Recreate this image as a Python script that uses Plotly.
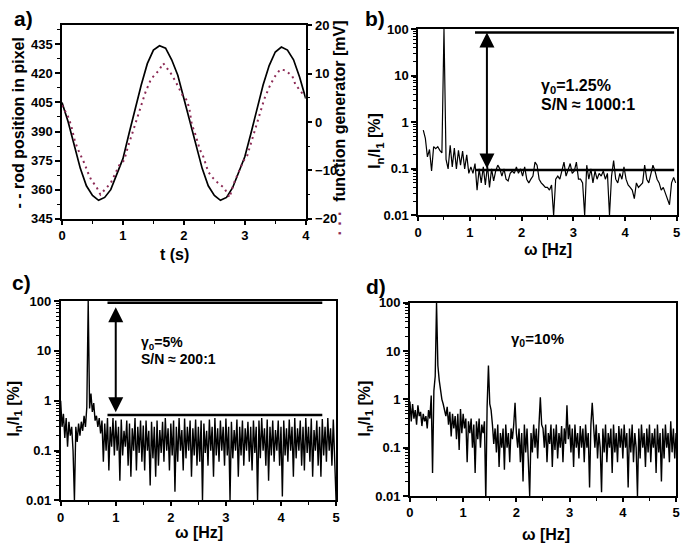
import numpy as np
import plotly.graph_objects as go

FONT = 'Liberation Sans, Arial, sans-serif'
GEN_COLOR = '#8c2a55'

# a) rod position (left axis, pixel) and function generator (right axis, mV)
t_rod = [0.0, 0.1, 0.2, 0.3, 0.4, 0.5, 0.6, 0.7, 0.8, 0.9, 1.0, 1.1, 1.2, 1.3, 1.4, 1.5, 1.6, 1.7, 1.8, 1.9, 2.0,
         2.1, 2.2, 2.3, 2.4, 2.5, 2.6, 2.7, 2.8, 2.9, 3.0, 3.1, 3.2, 3.3, 3.4, 3.5, 3.6, 3.7, 3.8, 3.9, 4.0]
rod_px = [405, 395, 383, 371, 362, 357, 354.5, 356, 360, 368, 376, 389, 402, 414, 425, 432, 434.2, 433, 427, 419, 407,
          395, 383, 371, 362, 357, 354.5, 356, 361, 369, 377, 389, 402, 414, 424, 431, 433.6, 432, 427, 418, 407]
t_gen = [0.0, 0.1, 0.15, 0.21, 0.26, 0.31, 0.37, 0.42, 0.48, 0.56, 0.63, 0.70, 0.80, 0.94, 1.02, 1.08, 1.13, 1.21,
         1.29, 1.37, 1.46, 1.53, 1.59, 1.66, 1.78, 1.86, 1.98, 2.05, 2.09, 2.13, 2.18, 2.26, 2.32, 2.40, 2.48, 2.56,
         2.66, 2.75, 2.81, 2.89, 2.97, 3.04, 3.08, 3.16, 3.24, 3.32, 3.40, 3.48, 3.58, 3.67, 3.78, 3.83, 3.97]
gen_mv = [3.5, 1.1, -0.7, -3.9, -5.6, -6.9, -8.6, -10.3, -12, -13.3, -15, -14, -12.6, -8.9, -7.9, -5.2, -3.2, -0.2,
          3.1, 6.2, 8.9, 10, 10.7, 12.2, 10.2, 8.5, 5.5, 4.5, 2.8, -0.5, -2.2, -5.6, -7.2, -10.3, -11.6, -12.6,
          -13.6, -15.6, -13, -10.6, -8.2, -6.9, -5.2, -1.9, 1.5, 4.8, 7.2, 9.2, 10.9, 10.7, 9.5, 7.8, 5.5]

# b) spectrum, gamma0 = 1.25 %
freq_b = np.round(np.arange(0.1, 4.99, 0.04), 3)
amp_b = [0.68, 0.45, 0.18, 0.26, 0.09, 0.30, 0.27, 0.30, 0.25, 0.22,
         100, 0.16, 0.10, 0.32, 0.11, 0.28, 0.10, 0.25, 0.12, 0.24,
         0.10, 0.20, 0.08, 0.11, 0.08, 0.13, 0.035, 0.10, 0.05, 0.11,
         0.045, 0.12, 0.04, 0.10, 0.055, 0.09, 0.12, 0.10, 0.07, 0.10,
         0.06, 0.055, 0.08, 0.09, 0.08, 0.11, 0.08, 0.10, 0.07, 0.11,
         0.06, 0.05, 0.06, 0.07, 0.14, 0.12, 0.06, 0.05, 0.045, 0.04,
         0.04, 0.035, 0.045, 0.01, 0.06, 0.07, 0.06, 0.09, 0.14, 0.07,
         0.10, 0.13, 0.08, 0.09, 0.14, 0.06, 0.06, 0.05, 0.01, 0.12,
         0.06, 0.10, 0.05, 0.09, 0.06, 0.08, 0.07, 0.09, 0.06, 0.08,
         0.01, 0.07, 0.15, 0.06, 0.05, 0.08, 0.06, 0.11, 0.06, 0.045,
         0.04, 0.035, 0.023, 0.05, 0.04, 0.045, 0.05, 0.12, 0.06, 0.05,
         0.08, 0.12, 0.09, 0.06, 0.05, 0.035, 0.04, 0.03, 0.025, 0.017,
         0.05, 0.065, 0.05]

# c) and d) spectra, gamma0 = 5 % and 10 %
freq_cd = np.round(np.arange(0, 5.001, 0.025), 3)
amp_c = [1.0, 0.3, 0.55, 0.18, 0.45, 0.12, 0.38, 0.2, 0.3, 0.1,
         0.01, 0.3, 0.15, 0.35, 0.2, 0.38, 0.25, 0.5, 0.3, 0.75,
         100, 0.7, 1.4, 0.6, 0.9, 0.4, 0.5, 0.3, 0.45, 0.22,
         0.4, 0.06, 0.35, 0.1, 0.45, 0.04, 0.3, 0.12, 0.45, 0.08,
         0.4, 0.1, 0.3, 0.025, 0.42, 0.08, 0.25, 0.12, 0.4, 0.05,
         0.35, 0.03, 0.28, 0.1, 0.45, 0.04, 0.3, 0.09, 0.4, 0.06,
         0.32, 0.04, 0.4, 0.1, 0.25, 0.02, 0.38, 0.07, 0.3, 0.03,
         0.4, 0.05, 0.26, 0.09, 0.38, 0.06, 0.45, 0.1, 0.28, 0.04,
         0.35, 0.08, 0.4, 0.015, 0.3, 0.06, 0.45, 0.1, 0.26, 0.04,
         0.44, 0.07, 0.3, 0.1, 0.4, 0.03, 0.28, 0.08, 0.42, 0.05,
         0.3, 0.06, 0.4, 0.01, 0.35, 0.09, 0.25, 0.05, 0.42, 0.1,
         0.3, 0.03, 0.45, 0.08, 0.28, 0.06, 0.4, 0.1, 0.3, 0.05,
         0.44, 0.08, 0.3, 0.01, 0.38, 0.07, 0.26, 0.1, 0.42, 0.03,
         0.3, 0.08, 0.4, 0.05, 0.28, 0.1, 0.38, 0.06, 0.3, 0.04,
         0.4, 0.09, 0.3, 0.01, 0.4, 0.07, 0.45, 0.1, 0.28, 0.05,
         0.42, 0.025, 0.3, 0.08, 0.4, 0.06, 0.26, 0.1, 0.4, 0.05,
         0.3, 0.012, 0.4, 0.08, 0.28, 0.06, 0.42, 0.1, 0.3, 0.03,
         0.45, 0.07, 0.28, 0.1, 0.4, 0.05, 0.3, 0.04, 0.45, 0.09,
         0.3, 0.06, 0.44, 0.03, 0.26, 0.1, 0.4, 0.05, 0.3, 0.03,
         0.43, 0.08, 0.3, 0.06, 0.45, 0.1, 0.28, 0.05, 0.42, 0.04,
         0.01]
amp_d = [0.9, 0.35, 0.8, 0.4, 0.6, 0.3, 0.75, 0.45, 0.55, 0.28,
         0.5, 0.35, 0.45, 0.25, 0.6, 0.4, 1.2, 0.03, 1.5, 3.0,
         100, 5, 2.5, 1.5, 1.0, 0.8, 0.6, 0.45, 0.7, 0.3,
         0.55, 0.17, 0.5, 0.25, 0.45, 0.15, 0.5, 0.09, 0.63, 0.2,
         0.5, 0.25, 0.4, 0.05, 0.35, 0.2, 0.4, 0.1, 0.3, 0.03,
         0.35, 0.15, 0.4, 0.1, 0.3, 0.2, 0.35, 0.008, 0.7, 5,
         0.8, 0.6, 0.3, 0.12, 0.25, 0.08, 0.3, 0.04, 0.2, 0.1,
         0.25, 0.035, 0.3, 0.1, 0.2, 0.05, 0.25, 0.15, 0.3, 0.85,
         0.2, 0.1, 0.25, 0.05, 0.2, 0.02, 0.3, 0.08, 0.25, 0.04,
         0.01, 0.2, 0.08, 0.3, 0.1, 0.25, 0.06, 0.3, 1.1, 0.3,
         0.25, 0.1, 0.3, 0.05, 0.2, 0.12, 0.3, 0.04, 0.25, 0.09,
         0.3, 0.06, 0.2, 0.1, 0.28, 0.05, 0.25, 0.12, 0.75, 0.15,
         0.3, 0.08, 0.25, 0.04, 0.3, 0.1, 0.2, 0.06, 0.28, 0.1,
         0.25, 0.05, 0.3, 0.1, 0.2, 0.015, 0.3, 0.85, 0.25, 0.1,
         0.3, 0.06, 0.2, 0.1, 0.012, 0.25, 0.08, 0.3, 0.05, 0.2,
         0.1, 0.25, 0.03, 0.3, 0.08, 0.2, 0.05, 0.28, 0.1, 0.25,
         0.06, 0.3, 0.1, 0.2, 0.015, 0.25, 0.08, 0.3, 0.05, 0.2,
         0.1, 0.01, 0.25, 0.06, 0.3, 0.1, 0.2, 0.04, 0.25, 0.08,
         0.3, 0.05, 0.2, 0.1, 0.25, 0.03, 0.3, 0.08, 0.2, 0.02,
         0.25, 0.06, 0.3, 0.1, 0.2, 0.05, 0.35, 0.08, 0.25, 0.06,
         0.2]

# signal / noise guide lines and the double arrow between them
b_levels = [85, 0.095]
b_span = [1.1, 4.95]
b_arrow_x = 1.33
c_levels = [92, 0.52]
c_span = [0.85, 4.75]
c_arrow_x = 1.0


def P(px, py):
    # pixel position in the 685x550 picture -> paper coords
    return px / 685, 1 - py / 550


fig = go.Figure()

fig.add_trace(go.Scatter(x=t_rod, y=rod_px, xaxis='x', yaxis='y', mode='lines',
                         line=dict(color='black', width=1.7)))
fig.add_trace(go.Scatter(x=t_gen, y=gen_mv, xaxis='x', yaxis='y5', mode='lines',
                         line=dict(color=GEN_COLOR, width=2, dash='2px,4px')))

fig.add_trace(go.Scatter(x=freq_b, y=amp_b, xaxis='x2', yaxis='y2', mode='lines',
                         line=dict(color='black', width=1.2)))
fig.add_trace(go.Scatter(x=freq_cd, y=amp_c, xaxis='x3', yaxis='y3', mode='lines',
                         line=dict(color='black', width=1.4)))
fig.add_trace(go.Scatter(x=freq_cd, y=amp_d, xaxis='x4', yaxis='y4', mode='lines',
                         line=dict(color='black', width=1.4)))

for lev in b_levels:
    fig.add_trace(go.Scatter(x=b_span, y=[lev, lev], xaxis='x2', yaxis='y2', mode='lines',
                             line=dict(color='black', width=2.5)))
for lev in c_levels:
    fig.add_trace(go.Scatter(x=c_span, y=[lev, lev], xaxis='x3', yaxis='y3', mode='lines',
                             line=dict(color='black', width=2.5)))

tickfont = dict(family=FONT, size=13, color='black', weight='bold')
base = dict(showline=True, linecolor='black', linewidth=1.5, mirror=True, ticks='outside',
            ticklen=5, tickwidth=1.5, tickcolor='black', showgrid=False, zeroline=False,
            tickfont=tickfont, ticklabeloverflow='allow')
minor_lin = dict(ticks='outside', ticklen=3, tickwidth=1.2, tickcolor='black', showgrid=False)
log_axis = dict(base, type='log', range=[-2, 2], tickvals=[0.01, 0.1, 1, 10, 100],
                ticktext=['0.01', '0.1', '1', '10', '100'],
                minor=dict(ticks='outside', ticklen=3, tickwidth=1, tickcolor='black',
                           tickvals=[a * 10.0 ** e for e in range(-2, 2) for a in range(2, 10)]))
freq_axis = dict(base, range=[0, 5], dtick=1, tick0=0, ticklen=4, minor=dict(minor_lin, dtick=0.5))

fig.update_layout(
    width=685, height=550, margin=dict(l=0, r=0, t=0, b=0),
    paper_bgcolor='white', plot_bgcolor='white', showlegend=False,
    font=dict(family=FONT, color='black'),
    xaxis=dict(base, domain=[0.0857, 0.4457], anchor='y', range=[0, 4], dtick=1, tick0=0, ticklen=4,
               minor=dict(minor_lin, dtick=0.5)),
    yaxis=dict(base, domain=[0.6042, 0.9655], anchor='x', range=[345, 444.7], tick0=345, dtick=15,
               minor=dict(minor_lin, dtick=7.5), mirror=False),
    yaxis5=dict(base, overlaying='y', side='right', anchor='x', range=[-20, 20], dtick=10,
                minor=dict(minor_lin, dtick=5), mirror=False),
    xaxis2=dict(freq_axis, domain=[0.6117, 0.9937], anchor='y2'),
    yaxis2=dict(log_axis, domain=[0.6104, 0.9587], anchor='x2'),
    xaxis3=dict(freq_axis, domain=[0.0837, 0.4905], anchor='y3'),
    yaxis3=dict(log_axis, domain=[0.0776, 0.4504], anchor='x3'),
    xaxis4=dict(freq_axis, domain=[0.5996, 0.9927], anchor='y4'),
    yaxis4=dict(log_axis, domain=[0.0860, 0.4473], anchor='x4'),
)

ann = []


def text(px, py, s, size=16, angle=0, xanchor='center', color='black'):
    x, y = P(px, py)
    ann.append(dict(x=x, y=y, xref='paper', yref='paper', text=s, showarrow=False, textangle=angle,
                    xanchor=xanchor, yanchor='middle',
                    font=dict(family=FONT, size=size, color=color, weight='bold')))


# panel letters
text(20, 12, 'a)', 21)
text(375, 12, 'b)', 21)
text(18, 283, 'c)', 21)
text(376, 287, 'd)', 21)

# axis titles
text(173, 254, 't (s)', 16)
text(15, 119, '- - rod position in pixel', 16, -90)
text(340, 125, '<span style="color:%s">· · ·</span>  function generator [mV]' % GEN_COLOR, 16, -90)
text(550, 249, 'ω [Hz]', 16)
text(376, 138, 'I<sub>n</sub>/I<sub>1</sub> [%]', 16, -90)
text(197, 540, 'ω [Hz]', 16)
text(11, 413, 'I<sub>n</sub>/I<sub>1</sub> [%]', 16, -90)
text(548, 542, 'ω [Hz]', 16)
text(366, 413, 'I<sub>n</sub>/I<sub>1</sub> [%]', 16, -90)

# inset texts
text(541, 82, 'γ<sub>0</sub>=1.25%', 16, xanchor='left')
text(541, 100, 'S/N ≈ 1000:1', 16, xanchor='left')
text(137, 345, 'γ<sub>0</sub>=5%', 14, xanchor='left')
text(137, 362, 'S/N ≈ 200:1', 14, xanchor='left')
text(511, 342, 'γ<sub>0</sub>=10%', 15, xanchor='left')

# double arrows (log axes take log10 positions)
for xa, ya, xarr, hi, lo in [('x2', 'y2', b_arrow_x, b_levels[0], b_levels[1]),
                             ('x3', 'y3', c_arrow_x, c_levels[0] * 0.82, c_levels[1] * 1.05)]:
    ann.append(dict(x=xarr, y=np.log10(hi), ax=xarr, ay=np.log10(lo), xref=xa, yref=ya,
                    axref=xa, ayref=ya, text='', showarrow=True, arrowhead=2, arrowside='end+start',
                    arrowsize=1.5, arrowwidth=2, arrowcolor='black', standoff=0, startstandoff=0))

fig.update_layout(annotations=ann)
# drop the browser's default 8px body margin so the figure sits at the window's corner
fig.write_html('out.html', config={'displayModeBar': False},
               post_script="document.body.style.margin = '0';")
